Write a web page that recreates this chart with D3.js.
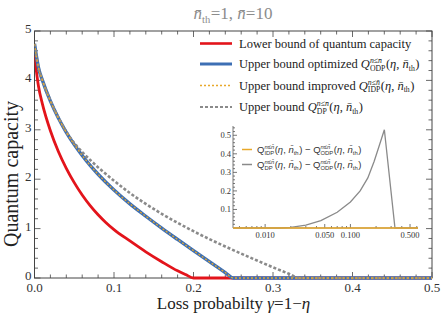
<!DOCTYPE html>
<html>
<head>
<meta charset="utf-8">
<script src="https://cdn.jsdelivr.net/npm/d3@7"></script>
<style>
  body { margin: 0; background: #fff; }
  svg { display: block; }
  text { white-space: pre; }
</style>
</head>
<body>
<div id="chart"></div>
<script>
// ---- data ----
const gammaLower = [0, 0.005, 0.01, 0.02, 0.03, 0.04, 0.05, 0.06, 0.07, 0.08, 0.09, 0.10, 0.12, 0.14, 0.16, 0.18, 0.19, 0.20, 0.5];
const lowerBound = [4.5, 3.88, 3.52, 2.98, 2.56, 2.22, 1.93, 1.68, 1.465, 1.28, 1.12, 0.98, 0.75, 0.53, 0.33, 0.145, 0.07, 0, 0];

const gammaODP = [0, 0.005, 0.01, 0.02, 0.03, 0.04, 0.05, 0.06, 0.07, 0.08, 0.10, 0.12, 0.14, 0.16, 0.18, 0.20, 0.22, 0.24, 0.25, 0.5];
const upperODP = [4.74, 4.26, 4.0, 3.58, 3.24, 2.95, 2.70, 2.48, 2.28, 2.10, 1.78, 1.50, 1.25, 1.01, 0.78, 0.554, 0.33, 0.11, 0, 0];
const upperIDP = [4.74, 4.26, 4.0, 3.58, 3.24, 2.95, 2.70, 2.48, 2.28, 2.10, 1.78, 1.50, 1.25, 1.01, 0.78, 0.554, 0.33, 0.11, 0, 0];

const gammaDP = [0, 0.005, 0.01, 0.02, 0.03, 0.04, 0.05, 0.06, 0.07, 0.08, 0.10, 0.12, 0.14, 0.16, 0.18, 0.20, 0.22, 0.24, 0.26, 0.28, 0.30, 0.32, 0.333, 0.5];
const upperDP = [4.74, 4.26, 4.0, 3.59, 3.25, 2.96, 2.73, 2.55, 2.39, 2.24, 1.97, 1.72, 1.50, 1.30, 1.117, 0.947, 0.787, 0.637, 0.493, 0.353, 0.217, 0.085, 0, 0];

// inset: differences on a log gamma axis
const insetGamma = [0.0042, 0.01, 0.015, 0.02, 0.03, 0.045, 0.07, 0.1, 0.13, 0.16, 0.19, 0.22, 0.25, 0.333, 0.62];
const diffIDP = [0, 0, 0, 0, 0, 0, 0, 0, 0, 0, 0, 0, 0, 0, 0];
const diffDP = [0, 0, 0, 0.003, 0.015, 0.04, 0.085, 0.14, 0.2, 0.27, 0.36, 0.45, 0.53, 0, 0];

const xTicks = [0, 0.1, 0.2, 0.3, 0.4, 0.5];
const yTicks = [0, 1, 2, 3, 4, 5];
const insetXTicks = [0.01, 0.05, 0.1, 0.5];
const insetYTicks = [0.1, 0.2, 0.3, 0.4, 0.5];

const W = 443, H = 322;
const serif = "'Liberation Serif', 'Times New Roman', serif";
const sans = "'Liberation Sans', Arial, sans-serif";
const frameColor = "#444";

const svg = d3.select("#chart").append("svg")
  .attr("width", W)
  .attr("height", H);

const x = d3.scaleLinear().domain([0, 0.5]).range([34.5, 432]);
const y = d3.scaleLinear().domain([0, 5]).range([278, 31]);

// small helper for text with italics, sub/superscripts
function put(g, px, py, str, size, italic, family, fill) {
  return g.append("text")
    .attr("x", px).attr("y", py)
    .attr("font-family", family)
    .attr("font-size", size)
    .attr("font-style", italic ? "italic" : "normal")
    .attr("fill", fill)
    .text(str);
}
function rich(g, px, py, parts, size, family, fill) {
  let cx = px;
  parts.forEach(p => {
    if (p.sup !== undefined || p.sub !== undefined) {
      const s = size * 0.62;
      let w = 0;
      if (p.sup) {
        const t = put(g, cx, py - size * 0.38, p.sup, s, true, family, fill);
        w = Math.max(w, t.node().getComputedTextLength());
      }
      if (p.sub) {
        const t = put(g, cx, py + size * 0.22, p.sub, s, false, family, fill);
        w = Math.max(w, t.node().getComputedTextLength());
      }
      cx += w + 0.5;
    } else {
      const t = put(g, cx, py, p.t, size, p.it, family, fill);
      cx += t.node().getComputedTextLength();
    }
  });
  return cx - px;
}

// ---- title ----
const nbar = "n\u0304";
const title = svg.append("g");
const tw = rich(title, 0, 19, [
  { t: nbar, it: true }, { sub: "th" }, { t: "=1, " }, { t: nbar, it: true }, { t: "=10" }
], 17, serif, "#8c8c8c");
title.attr("transform", `translate(${233 - tw / 2},0)`);

// ---- frame and ticks ----
svg.append("rect")
  .attr("x", x(0)).attr("y", y(5))
  .attr("width", x(0.5) - x(0)).attr("height", y(0) - y(5))
  .attr("fill", "none").attr("stroke", frameColor).attr("stroke-width", 1);

const xMinor = d3.range(0, 0.5001, 0.02);
const yMinor = d3.range(0, 5.001, 0.2);
const tickG = svg.append("g").attr("stroke", frameColor).attr("stroke-width", 0.8);
xMinor.forEach(v => {
  const major = xTicks.some(t => Math.abs(t - v) < 1e-6);
  const len = major ? 6 : 3.5;
  tickG.append("line").attr("x1", x(v)).attr("x2", x(v)).attr("y1", y(0)).attr("y2", y(0) - len);
  tickG.append("line").attr("x1", x(v)).attr("x2", x(v)).attr("y1", y(5)).attr("y2", y(5) + len);
});
yMinor.forEach(v => {
  const major = yTicks.some(t => Math.abs(t - v) < 1e-6);
  const len = major ? 6 : 3.5;
  tickG.append("line").attr("x1", x(0)).attr("x2", x(0) + len).attr("y1", y(v)).attr("y2", y(v));
  tickG.append("line").attr("x1", x(0.5)).attr("x2", x(0.5) - len).attr("y1", y(v)).attr("y2", y(v));
});

svg.append("g").selectAll("text").data(xTicks).enter().append("text")
  .attr("x", d => x(d)).attr("y", y(0) + 14)
  .attr("text-anchor", "middle")
  .attr("font-family", serif).attr("font-size", 13).attr("fill", "#333")
  .text(d => d3.format(".1f")(d));
svg.append("g").selectAll("text").data(yTicks).enter().append("text")
  .attr("x", x(0) - 3).attr("y", d => y(d) + 2)
  .attr("text-anchor", "end")
  .attr("font-family", serif).attr("font-size", 13).attr("fill", "#333")
  .text(d => d);

// axis titles
svg.append("text")
  .attr("transform", "translate(18,174) rotate(-90)")
  .attr("text-anchor", "middle")
  .attr("font-family", serif).attr("font-size", 20).attr("fill", "#222")
  .text("Quantum capacity");
const xt = svg.append("g");
const xtw = rich(xt, 0, 309, [
  { t: "Loss probabilty " }, { t: "\u03b3", it: true }, { t: "=1\u2212" }, { t: "\u03b7", it: true }
], 17, serif, "#222");
xt.attr("transform", `translate(${233.5 - xtw / 2},0)`);

// ---- curves ----
svg.append("clipPath").attr("id", "plotclip").append("rect")
  .attr("x", x(0)).attr("y", y(5)).attr("width", x(0.5) - x(0)).attr("height", y(0) - y(5) + 2);
const curves = svg.append("g").attr("clip-path", "url(#plotclip)");

function lineOf(gs, vs) {
  return d3.line().curve(d3.curveMonotoneX).x((d, i) => x(gs[i])).y(d => y(d))(vs);
}
const series = [
  { g: gammaLower, v: lowerBound, color: "#e3141b", w: 2.8, dash: null },
  { g: gammaODP, v: upperODP, color: "#3d6fb4", w: 3.4, dash: null },
  { g: gammaDP, v: upperDP, color: "#8a8a8a", w: 2.6, dash: "3,2" },
  { g: gammaODP, v: upperIDP, color: "#e8a82a", w: 1.3, dash: "2,2" }
];
series.forEach(s => {
  curves.append("path")
    .attr("d", lineOf(s.g, s.v))
    .attr("fill", "none")
    .attr("stroke", s.color)
    .attr("stroke-width", s.w)
    .attr("stroke-dasharray", s.dash);
});

// ---- legend ----
const legend = svg.append("g");
const dpArgs = [{ t: "(" }, { t: "\u03b7", it: true }, { t: ", " }, { t: nbar, it: true }, { sub: "th" }, { t: ")" }];
const legRows = [
  { color: "#e3141b", w: 2.6, dash: null, parts: [{ t: "Lower bound of quantum capacity" }] },
  { color: "#3d6fb4", w: 3, dash: null, parts: [{ t: "Upper bound optimized " }, { t: "Q", it: true }, { sup: "n\u2264" + nbar, sub: "ODP" }, ...dpArgs] },
  { color: "#e8a82a", w: 1.3, dash: "2,2", parts: [{ t: "Upper bound improved " }, { t: "Q", it: true }, { sup: "n\u2264" + nbar, sub: "IDP" }, ...dpArgs] },
  { color: "#8a8a8a", w: 2, dash: "3,2", parts: [{ t: "Upper bound " }, { t: "Q", it: true }, { sup: "n\u2264" + nbar, sub: "DP" }, ...dpArgs] }
];
const legY = [43.5, 64, 85.5, 107];
legRows.forEach((r, i) => {
  legend.append("line")
    .attr("x1", 200).attr("x2", 232).attr("y1", legY[i]).attr("y2", legY[i])
    .attr("stroke", r.color).attr("stroke-width", r.w).attr("stroke-dasharray", r.dash);
  rich(legend, 239, legY[i] + 4, r.parts, 12.5, serif, "#222");
});

// ---- inset ----
const ix = d3.scaleLog().domain([0.0042, 0.62]).range([233, 418]);
const iy = d3.scaleLinear().domain([0, 0.55]).range([228, 126]);
const inset = svg.append("g");

const iaxis = inset.append("g").attr("stroke", "#555").attr("stroke-width", 0.8);
iaxis.append("line").attr("x1", ix.range()[0]).attr("x2", ix.range()[1]).attr("y1", iy(0)).attr("y2", iy(0));
iaxis.append("line").attr("x1", ix.range()[0]).attr("x2", ix.range()[0]).attr("y1", iy(0)).attr("y2", iy(0.55));
d3.range(0.02, 0.5401, 0.02).forEach(v => {
  const major = insetYTicks.some(t => Math.abs(t - v) < 1e-6);
  iaxis.append("line").attr("x1", ix.range()[0]).attr("x2", ix.range()[0] + (major ? 4 : 2))
    .attr("y1", iy(v)).attr("y2", iy(v));
});
ix.ticks().forEach(v => {
  const major = insetXTicks.some(t => Math.abs(t - v) < 1e-9);
  iaxis.append("line").attr("x1", ix(v)).attr("x2", ix(v))
    .attr("y1", iy(0)).attr("y2", iy(0) - (major ? 4 : 2));
});
inset.selectAll(".iyl").data(insetYTicks).enter().append("text")
  .attr("x", ix.range()[0] - 2).attr("y", d => iy(d) + 3)
  .attr("text-anchor", "end")
  .attr("font-family", serif).attr("font-size", 8.5).attr("fill", "#333")
  .text(d => d);
inset.selectAll(".ixl").data(insetXTicks).enter().append("text")
  .attr("x", d => ix(d)).attr("y", iy(0) + 10)
  .attr("text-anchor", "middle")
  .attr("font-family", serif).attr("font-size", 8.5).attr("fill", "#333")
  .text(d => d3.format(".3f")(d));

const iline = vs => d3.line().x((d, i) => ix(insetGamma[i])).y(d => iy(d))(vs);
inset.append("path").attr("d", iline(diffDP)).attr("fill", "none")
  .attr("stroke", "#8a8a8a").attr("stroke-width", 1.3);
inset.append("path").attr("d", iline(diffIDP)).attr("fill", "none")
  .attr("stroke", "#e8a82a").attr("stroke-width", 1.5);

const insetRows = [
  { color: "#e8a82a", a: "IDP" },
  { color: "#8a8a8a", a: "DP" }
];
const insetLegY = [149.5, 164.5];
insetRows.forEach((r, i) => {
  inset.append("line")
    .attr("x1", 242).attr("x2", 252).attr("y1", insetLegY[i]).attr("y2", insetLegY[i])
    .attr("stroke", r.color).attr("stroke-width", 1.5);
  rich(inset, 257, insetLegY[i] + 3, [
    { t: "Q" }, { sup: "n\u2264" + nbar, sub: r.a }, { t: "(" }, { t: "\u03b7", it: true }, { t: ", " }, { t: nbar, it: true }, { sub: "th" }, { t: ") \u2212 " },
    { t: "Q" }, { sup: "n\u2264" + nbar, sub: "ODP" }, { t: "(" }, { t: "\u03b7", it: true }, { t: ", " }, { t: nbar, it: true }, { sub: "th" }, { t: ")" }
  ], 9.5, sans, "#333");
});
</script>
</body>
</html>
